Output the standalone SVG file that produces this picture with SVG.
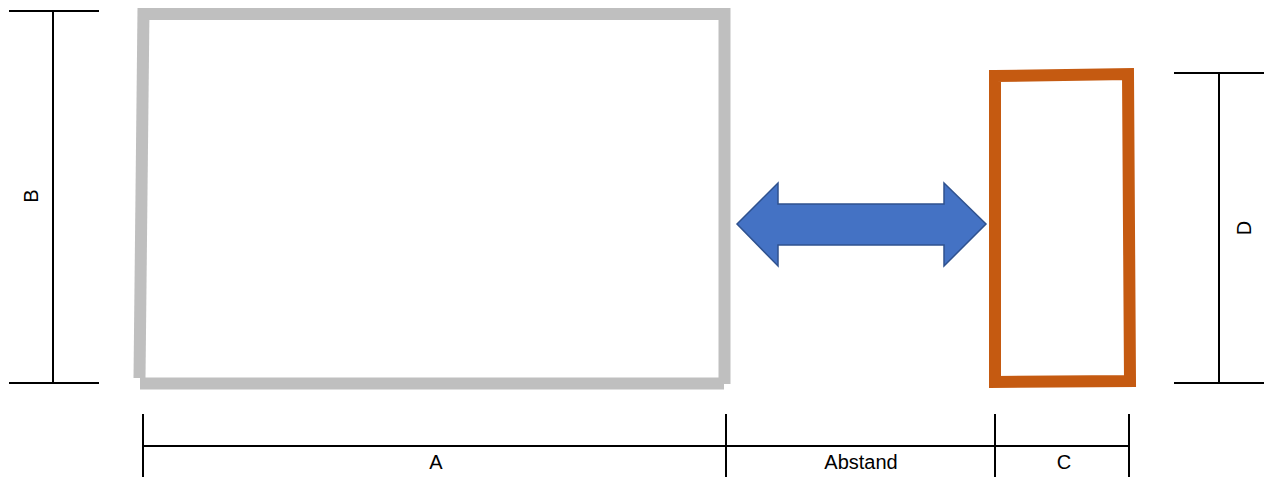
<svg xmlns="http://www.w3.org/2000/svg" width="1266" height="479" viewBox="0 0 1266 479">
<style>
.dim{stroke:#000;stroke-width:2;fill:none}
.lbl{font-family:"Liberation Sans",Arial,sans-serif;font-size:20px;fill:#000;text-anchor:middle}
.gray{stroke:#BFBFBF;stroke-width:12;fill:none;stroke-linecap:butt}
</style>
<rect width="1266" height="479" fill="#fff"/>
<g id="big-rect">
<line class="gray" x1="143" y1="14" x2="726" y2="14"/>
<line class="gray" x1="724.5" y1="8" x2="724.5" y2="384"/>
<line class="gray" x1="140" y1="383.5" x2="724" y2="383.5"/>
<line class="gray" x1="143.5" y1="8" x2="139.5" y2="378"/>
</g>
<g id="small-rect">
<path d="M995,76 L1128,74 L1130,381 L995,382 Z" fill="none" stroke="#C55A11" stroke-width="12" stroke-linejoin="miter"/>
</g>
<g id="arrow">
<path d="M737,224 L778,183 L778,204 L944,204 L944,183 L986,224 L944,266 L944,245 L778,245 L778,266 Z" fill="#4472C4" stroke="#2F528F" stroke-width="1.5" stroke-linejoin="miter"/>
</g>
<g id="connectors">
<g id="dim-B">
<line class="dim" x1="9" y1="11" x2="99" y2="11"/>
<line class="dim" x1="53" y1="11" x2="53" y2="383"/>
<line class="dim" x1="9" y1="383" x2="99" y2="383"/>
</g>
<g id="dim-D">
<line class="dim" x1="1174" y1="73" x2="1264" y2="73"/>
<line class="dim" x1="1219" y1="73" x2="1219" y2="383"/>
<line class="dim" x1="1174" y1="383" x2="1264" y2="383"/>
</g>
<g id="dim-bottom">
<line class="dim" x1="143" y1="446" x2="1130" y2="446"/>
<line class="dim" x1="143" y1="414" x2="143" y2="477"/>
<line class="dim" x1="726" y1="414" x2="726" y2="477"/>
<line class="dim" x1="995" y1="414" x2="995" y2="477"/>
<line class="dim" x1="1129" y1="414" x2="1129" y2="477"/>
</g>
</g>
<g id="labels">
<text class="lbl" transform="translate(38,196) rotate(-90)">B</text>
<text class="lbl" transform="translate(1251,228) rotate(-90)">D</text>
<text class="lbl" x="436" y="469">A</text>
<text class="lbl" x="861" y="469">Abstand</text>
<text class="lbl" x="1064" y="469">C</text>
</g>
</svg>
